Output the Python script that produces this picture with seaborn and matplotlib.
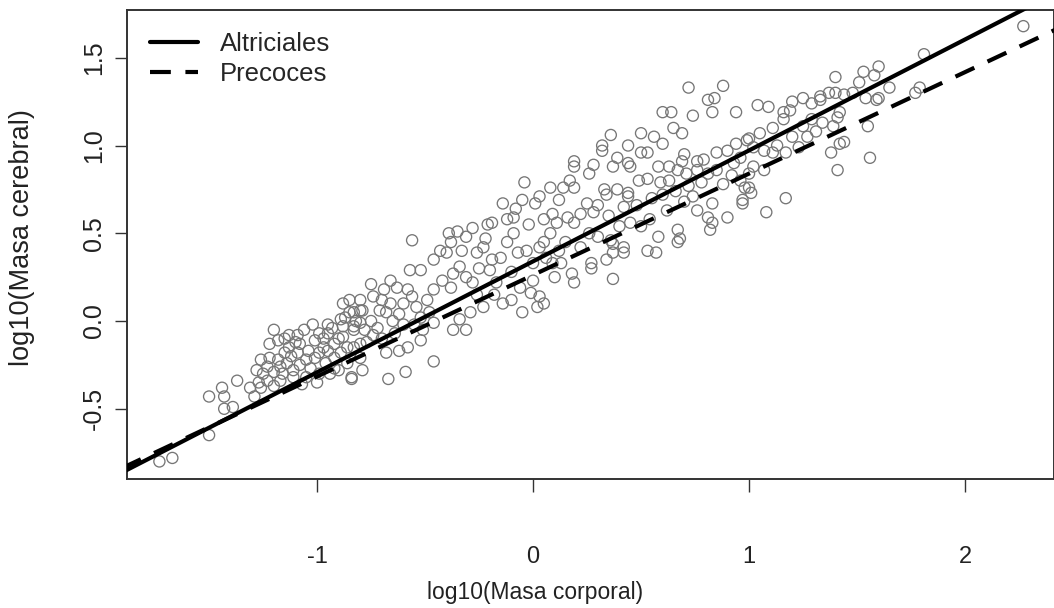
import matplotlib
matplotlib.use("Agg")
import matplotlib.pyplot as plt
import numpy as np
import pandas as pd
import seaborn as sns

corporal_a = [-1.73, -1.67, -1.50, -1.50, -1.44, -1.43, -1.43, -1.39, -1.37, -1.31, -1.29, -1.26]
cerebral_a = [-0.80, -0.78, -0.65, -0.43, -0.38, -0.43, -0.50, -0.49, -0.34, -0.38, -0.43, -0.38]

corporal_b = [-1.22, -1.18, -1.15, -1.09, -0.95, -0.89, -0.83, -0.80, -1.08, -1.01,
              -0.99, -0.95, -0.92, -0.88, -0.83, -0.80, -1.23, -1.20, -1.17, -1.14,
              -1.11, -1.08, -1.05, -1.01, -0.99, -0.95, -0.92, -0.89, -0.86, -0.83,
              -0.80, -1.23, -1.17, -1.11, -1.05, -0.99, -0.92, -0.86, -0.80, -1.22,
              -1.15, -1.09, -1.04, -0.97, -0.84, -0.79, -1.20, -1.13, -1.06, -1.02,
              -0.97, -0.93, -0.90, -0.87, -1.25, -1.18, -1.12, -1.03, -0.96, -0.90,
              -1.00, -1.26, -1.10, -1.16, -1.28, -1.20, -1.07, -1.13, -0.94, -1.27]
cerebral_b = [-0.13, -0.11, -0.10, -0.08, -0.02, 0.01, 0.05, 0.06, -0.13, -0.11,
              -0.07, -0.07, -0.13, -0.09, -0.05, -0.01, -0.26, -0.29, -0.26, -0.24,
              -0.28, -0.25, -0.22, -0.21, -0.18, -0.17, -0.21, -0.18, -0.15, -0.15,
              -0.13, -0.34, -0.34, -0.32, -0.32, -0.30, -0.27, -0.24, -0.21, -0.21,
              -0.18, -0.18, -0.17, -0.15, -0.32, -0.28, -0.05, -0.15, -0.05, -0.02,
              -0.10, -0.04, -0.10, 0.02, -0.30, -0.22, -0.20, -0.27, -0.24, -0.28,
              -0.35, -0.22, -0.12, -0.30, -0.28, -0.37, -0.36, -0.08, -0.30, -0.35]

corporal_c = [-0.56, -0.43, -0.40, -0.46, -0.52, -0.57, -0.66, -0.63, -0.69, -0.75,
              -0.74, -0.80, -0.79, -0.85, -0.88, -0.83, -0.71, -0.68, -0.66, -0.58,
              -0.56, -0.54, -0.49, -0.46, -0.42, -0.37, -0.34, -0.31, -0.38, -0.39,
              -0.35, -0.38, -0.46, -0.51, -0.52, -0.58, -0.62, -0.68, -0.46, -0.59,
              -0.67, -0.84, -0.88, -0.85, -0.82, -0.78, -0.75, -0.72, -0.70, -0.77,
              -0.74, -0.65, -0.62, -0.60, -0.64, -0.70, -0.60, -0.52, -0.48, -0.55]
cerebral_c = [0.46, 0.40, 0.39, 0.35, 0.29, 0.29, 0.23, 0.19, 0.18, 0.21,
              0.14, 0.12, 0.06, 0.05, -0.03, -0.03, 0.06, 0.05, 0.10, 0.18,
              0.14, 0.08, 0.12, 0.18, 0.23, 0.27, 0.31, 0.25, 0.19, 0.50,
              0.51, 0.45, -0.01, -0.05, -0.11, -0.15, -0.17, -0.18, -0.23, -0.29,
              -0.33, -0.33, 0.10, 0.12, 0.00, -0.05, 0.00, -0.04, -0.10, -0.12,
              -0.08, 0.00, 0.04, -0.02, -0.07, 0.12, 0.10, 0.02, 0.05, -0.02]

corporal_d = [-0.04, 0.08, -0.14, -0.09, -0.05, 0.01, 0.03, -0.12, -0.09, -0.21,
              -0.19, -0.28, -0.31, -0.26, -0.23, -0.19, -0.15, -0.20, -0.07, -0.03,
              0.00, 0.03, 0.06, 0.09, -0.06, -0.01, 0.03, 0.00, -0.14, -0.23,
              -0.29, -0.34, -0.31, -0.37, -0.25, -0.28, -0.17, -0.10, -0.12, -0.02,
              -0.26, -0.18, -0.10, -0.05, 0.02, -0.22, -0.33, -0.08, 0.05, 0.05]
cerebral_d = [0.79, 0.76, 0.67, 0.50, 0.69, 0.67, 0.71, 0.58, 0.59, 0.55,
              0.56, 0.53, 0.48, 0.39, 0.42, 0.35, 0.36, 0.29, 0.39, 0.40,
              0.33, 0.42, 0.36, 0.33, 0.19, 0.16, 0.14, 0.23, 0.10, 0.08,
              0.05, 0.01, -0.05, -0.05, 0.30, 0.22, 0.22, 0.28, 0.45, 0.55,
              0.15, 0.15, 0.12, 0.05, 0.08, 0.47, 0.40, 0.64, 0.58, 0.10]

corporal_e = [0.72, 0.88, 0.81, 0.84, 0.60, 0.64, 0.74, 0.83, 0.94, 1.04,
              0.65, 0.69, 0.56, 0.60, 0.32, 0.32, 0.44, 0.50, 0.53, 0.39,
              0.44, 0.45, 0.37, 0.19, 0.19, 0.28, 0.26, 0.58, 0.63, 0.69,
              0.76, 0.79, 0.85, 0.90, 0.94, 0.99, 1.02, 0.17, 0.19, 0.14,
              0.12, 0.09, 0.16, 0.11, 0.19, 0.22, 0.25, 0.30, 0.33, 0.34,
              0.39, 0.44, 0.44, 0.49, 0.53, 0.59, 0.63, 0.67, 0.71, 0.76,
              0.81, 0.85, 0.83, 0.90, 0.97, 1.00, 0.96, 0.76, 0.81, 0.82,
              0.83, 0.67, 0.68, 0.67, 0.53, 0.57, 0.58, 0.42, 0.42, 0.37,
              0.34, 0.27, 0.27, 0.18, 0.19, 0.10, 0.37, 0.26, 0.30, 0.36,
              0.37, 0.40, 0.45, 0.50, 0.54, 0.28, 0.35, 0.42, 0.48, 0.55,
              0.60, 0.66, 0.72, 0.78, 0.62, 0.70, 0.74, 0.88, 0.92, 0.15,
              0.12, 0.22, 0.08, 0.05, 0.36, 0.50, 0.70, 0.93, 0.96, 0.13]
cerebral_e = [1.33, 1.34, 1.26, 1.27, 1.19, 1.19, 1.17, 1.19, 1.19, 1.23,
              1.10, 1.07, 1.05, 1.01, 1.00, 0.97, 1.00, 0.96, 0.96, 0.93,
              0.90, 0.88, 0.88, 0.91, 0.88, 0.89, 0.84, 0.88, 0.88, 0.91,
              0.91, 0.92, 0.96, 0.97, 1.01, 1.03, 0.99, 0.80, 0.76, 0.76,
              0.69, 0.61, 0.59, 0.56, 0.56, 0.61, 0.67, 0.66, 0.75, 0.72,
              0.75, 0.71, 0.73, 0.80, 0.81, 0.79, 0.80, 0.86, 0.84, 0.86,
              0.84, 0.86, 0.67, 0.59, 0.67, 0.76, 0.80, 0.63, 0.59, 0.52,
              0.56, 0.52, 0.47, 0.45, 0.40, 0.39, 0.48, 0.42, 0.39, 0.39,
              0.35, 0.33, 0.30, 0.27, 0.22, 0.25, 0.24, 0.50, 0.48, 0.46,
              0.44, 0.54, 0.56, 0.54, 0.58, 0.62, 0.60, 0.65, 0.66, 0.70,
              0.72, 0.74, 0.77, 0.79, 0.63, 0.68, 0.71, 0.78, 0.83, 0.45,
              0.40, 0.42, 0.50, 0.45, 1.06, 1.07, 0.95, 0.90, 0.93, 0.33]

corporal_f = [2.27, 1.81, 1.60, 1.53, 1.58, 1.51, 1.40, 1.65, 1.59, 1.60,
              1.79, 1.77, 1.54, 1.48, 1.44, 1.40, 1.37, 1.33, 1.33, 1.29,
              1.25, 1.20, 1.19, 1.16, 1.09, 1.42, 1.41, 1.34, 1.39, 1.29,
              1.27, 1.25, 1.20, 1.16, 1.11, 1.05, 1.00, 1.55, 1.56, 1.41,
              1.38, 1.42, 1.44, 1.17, 1.11, 1.07, 1.02, 1.00, 0.98, 1.01,
              0.97, 1.17, 1.08, 1.13, 1.23, 1.07, 1.31]
cerebral_f = [1.68, 1.52, 1.45, 1.42, 1.40, 1.36, 1.39, 1.33, 1.26, 1.27,
              1.33, 1.30, 1.27, 1.30, 1.29, 1.30, 1.30, 1.28, 1.26, 1.24,
              1.27, 1.25, 1.20, 1.19, 1.22, 1.19, 1.16, 1.13, 1.11, 1.15,
              1.05, 1.11, 1.05, 1.15, 1.10, 1.07, 1.04, 1.11, 0.93, 0.86,
              0.96, 1.01, 1.02, 0.96, 0.96, 0.86, 0.88, 0.84, 0.76, 0.73,
              0.69, 0.70, 0.62, 1.00, 0.99, 0.97, 1.08]

# rectas de regresion (intercepto, pendiente)
grupos = ["Altriciales", "Precoces"]
interceptos = [0.34, 0.262]
pendientes = [0.632, 0.578]

xlim = (-1.88, 2.412)
ylim = (-0.90, 1.772)

puntos = pd.DataFrame({
    "corporal": corporal_a + corporal_b + corporal_c + corporal_d + corporal_e + corporal_f,
    "cerebral": cerebral_a + cerebral_b + cerebral_c + cerebral_d + cerebral_e + cerebral_f,
})

x_recta = np.array([-2.2, 2.6])
rectas = pd.concat([
    pd.DataFrame({"x": x_recta, "y": a + b * x_recta, "grupo": g})
    for g, a, b in zip(grupos, interceptos, pendientes)
])

sns.set_theme(style="white")
plt.rcParams["font.family"] = ["Liberation Sans", "DejaVu Sans"]

fig = plt.figure(figsize=(10.54, 6.08), dpi=100)
ax = fig.add_axes([127 / 1054, 1 - 479 / 608, 927 / 1054, 469 / 608])

sns.scatterplot(data=puntos, x="corporal", y="cerebral", ax=ax,
                marker="o", s=64, facecolor="none", edgecolor="#767676",
                linewidth=0.95, zorder=2)
sns.lineplot(data=rectas, x="x", y="y", style="grupo", ax=ax,
             color="black", linewidth=3.0, zorder=3,
             dashes={"Altriciales": "", "Precoces": (5, 3.5)})

ax.set_xlim(*xlim)
ax.set_ylim(*ylim)
ax.set_xticks([-1, 0, 1, 2])
ax.set_xticklabels(["-1", "0", "1", "2"])
ax.set_yticks([-0.5, 0.0, 0.5, 1.0, 1.5])
ax.set_yticklabels(["-0.5", "0.0", "0.5", "1.0", "1.5"], rotation=90, va="center")
ax.tick_params(axis="x", direction="out", length=9, width=1.0, color="#333333",
               pad=39.5, labelsize=17, labelcolor="#222222", bottom=True)
ax.tick_params(axis="y", direction="out", length=9, width=1.0, color="#333333",
               pad=6, labelsize=18, labelcolor="#222222", left=True)
for s in ax.spines.values():
    s.set_color("#333333")
    s.set_linewidth(1.4)

ax.set_xlabel("log10(Masa corporal)", fontsize=16.5, color="#222222")
ax.set_ylabel("log10(Masa cerebral)", fontsize=19.5, color="#222222")
ax.xaxis.set_label_coords(0.44, -0.218)
ax.yaxis.set_label_coords(-0.099, 0.515)

handles, labels = ax.get_legend_handles_labels()
ax.legend(handles, labels, loc="upper left", bbox_to_anchor=(23 / 927, 0.953),
          frameon=False, fontsize=18.5, handlelength=1.87, handletextpad=0.86,
          labelspacing=0.22, borderaxespad=0, borderpad=0)

fig.savefig("out.png", dpi=100)
